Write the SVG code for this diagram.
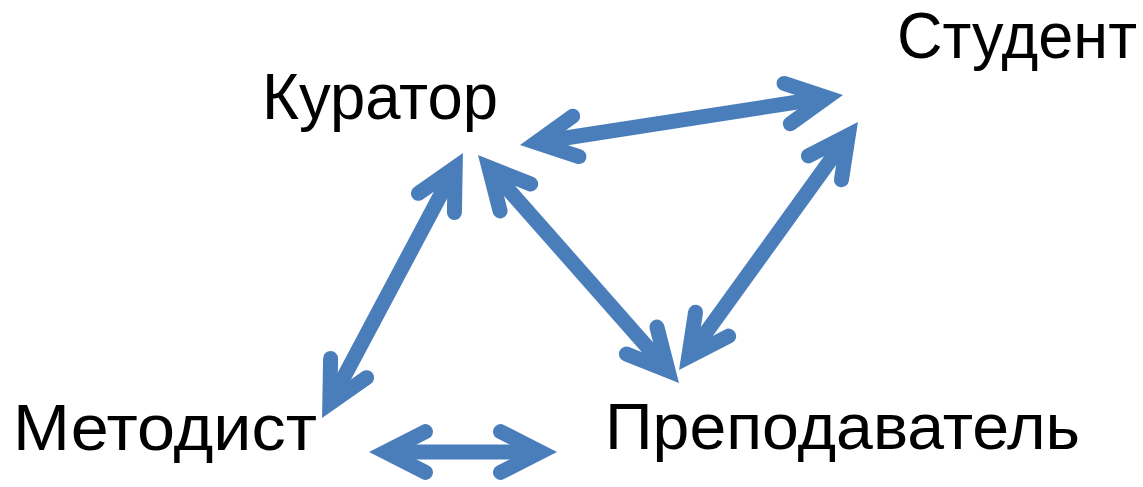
<svg xmlns="http://www.w3.org/2000/svg" width="1143" height="487" viewBox="0 0 1143 487">
  <style>
    .lbl { font-family: "Liberation Sans", Arial, sans-serif; font-size: 64px; fill: #000000; }
    .conn { stroke: #4A7EBB; stroke-width: 15; fill: none; stroke-linecap: butt; marker-start: url(#head); marker-end: url(#head); }
  </style>
  <defs>
    <marker id="head" markerUnits="userSpaceOnUse" orient="auto-start-reverse" refX="-16.5" refY="0" markerWidth="90" markerHeight="90" overflow="visible">
      <path d="M -56.5 -20.4 L -16.5 0 L -56.5 20.4" fill="none" stroke="#4A7EBB" stroke-width="15" stroke-linecap="round" stroke-linejoin="miter" stroke-miterlimit="10"/>
    </marker>
  </defs>
  <rect width="1143" height="487" fill="#ffffff"/>
  <g id="connectors">
    <line class="conn" x1="536.3" y1="142.5" x2="826.7" y2="97.5"/>
    <line class="conn" x1="455.2" y1="167.6" x2="329.8" y2="403.4"/>
    <line class="conn" x1="488.9" y1="167.4" x2="668.1" y2="370.6"/>
    <line class="conn" x1="848.3" y1="135.4" x2="688.7" y2="356.6"/>
    <line class="conn" x1="385.5" y1="452" x2="540.5" y2="452"/>
  </g>
  <g id="node-kurator"><text class="lbl" x="262" y="119" textLength="236" lengthAdjust="spacingAndGlyphs">Куратор</text></g>
  <g id="node-student"><text class="lbl" x="897" y="58" textLength="240" lengthAdjust="spacingAndGlyphs">Студент</text></g>
  <g id="node-metodist"><text class="lbl" x="13" y="450" textLength="304" lengthAdjust="spacingAndGlyphs">Методист</text></g>
  <g id="node-prepodavatel"><text class="lbl" x="605" y="449" textLength="475" lengthAdjust="spacingAndGlyphs">Преподаватель</text></g>
</svg>
